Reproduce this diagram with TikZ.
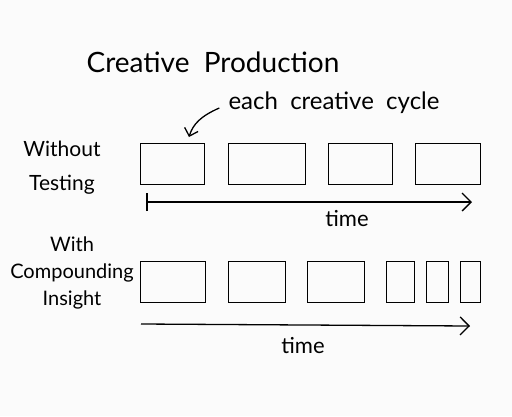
\documentclass[tikz,border=0pt]{standalone}
\usepackage{fontspec}
\setmainfont{Lato}
\usetikzlibrary{arrows.meta}
\tikzset{
  cyc/.style={draw, line width=1.3pt, minimum height=41pt, inner sep=0pt, anchor=north west},
  lbl/.style={font=\fontsize{21}{34}\selectfont, align=center, inner sep=0pt},
  axis/.style={line width=1.3pt, -{Straight Barb[length=9pt,width=18pt,line width=1.3pt]}},
}
\begin{document}
\begin{tikzpicture}[x=1pt,y=-1pt]
\fill[white!97!gray] (0,0) rectangle (512,416);
\useasboundingbox (0,0) rectangle (512,416);
\node[font=\fontsize{28}{32}\selectfont, inner sep=0pt] (title) at (213,62) {Creative\ \ Production};
\node[lbl, font=\fontsize{24}{26}\selectfont] (note) at (334,103) {each\ \ creative\ \ cycle};
% top row
\node[lbl] (wo) at (62,168) {Without\\Testing};
\node[cyc, minimum width=64pt] (a1) at (140,143) {};
\node[cyc, minimum width=77pt] (a2) at (228,143) {};
\node[cyc, minimum width=64pt] (a3) at (328,143) {};
\node[cyc, minimum width=65pt] (a4) at (415,143) {};
\coordinate (t1s) at (147,202);
\coordinate (t1e) at (472,202);
\draw[axis] (t1s) -- (t1e);
\draw[line width=1.3pt] ([yshift=-9pt]t1s) -- ([yshift=9pt]t1s);
\node[lbl, font=\fontsize{22}{26}\selectfont] (time1) at (347,219) {time};
\draw[line width=1.3pt, -{Straight Barb[length=7pt,width=14pt,line width=1.3pt]}]
  (note.west) ++(-9,5) coordinate (ns) (ns) .. controls (201,116) and (193,124) .. (189,137);
% bottom row
\node[lbl, font=\fontsize{20}{27}\selectfont] (wi) at (72,273) {With\\Compounding\\Insight};
\node[cyc, minimum width=65pt] (b1) at (140,261) {};
\node[cyc, minimum width=57pt] (b2) at (228,261) {};
\node[cyc, minimum width=57pt] (b3) at (307,261) {};
\node[cyc, minimum width=28pt] (b4) at (386,261) {};
\node[cyc, minimum width=22pt] (b5) at (426,261) {};
\node[cyc, minimum width=20pt] (b6) at (460,261) {};
\coordinate (t2s) at (141,324);
\coordinate (t2e) at (470,326);
\draw[axis] (t2s) -- (t2e);
\node[lbl, font=\fontsize{22}{26}\selectfont] (time2) at (303,346) {time};
\end{tikzpicture}
\end{document}
